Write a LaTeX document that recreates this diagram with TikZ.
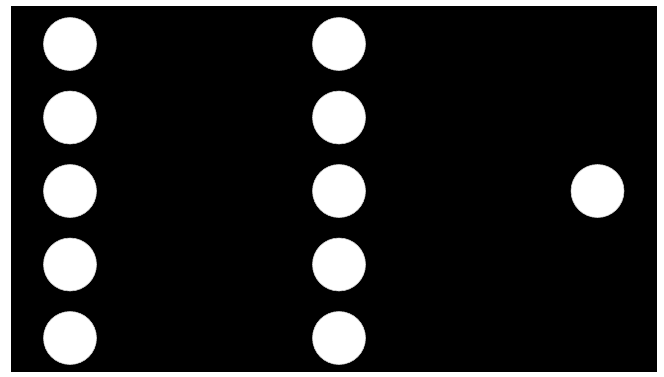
\documentclass[tikz,border=0pt]{standalone}
\begin{document}
\begin{tikzpicture}[x=1pt,y=-1pt,
  neuron/.style={circle,fill=white,draw=black!20,line width=0.6pt,minimum size=53pt,inner sep=0pt}]
\useasboundingbox (0,0) rectangle (664,376);
\fill[black] (11,6) rectangle (657,372);
\foreach \i/\y in {1/44,2/117.5,3/191,4/264.5,5/338}{
  \node[neuron] (in\i) at (70,\y) {};
  \node[neuron] (h\i) at (339,\y) {};
}
\node[neuron] (out) at (597.5,191) {};
\end{tikzpicture}
\end{document}
